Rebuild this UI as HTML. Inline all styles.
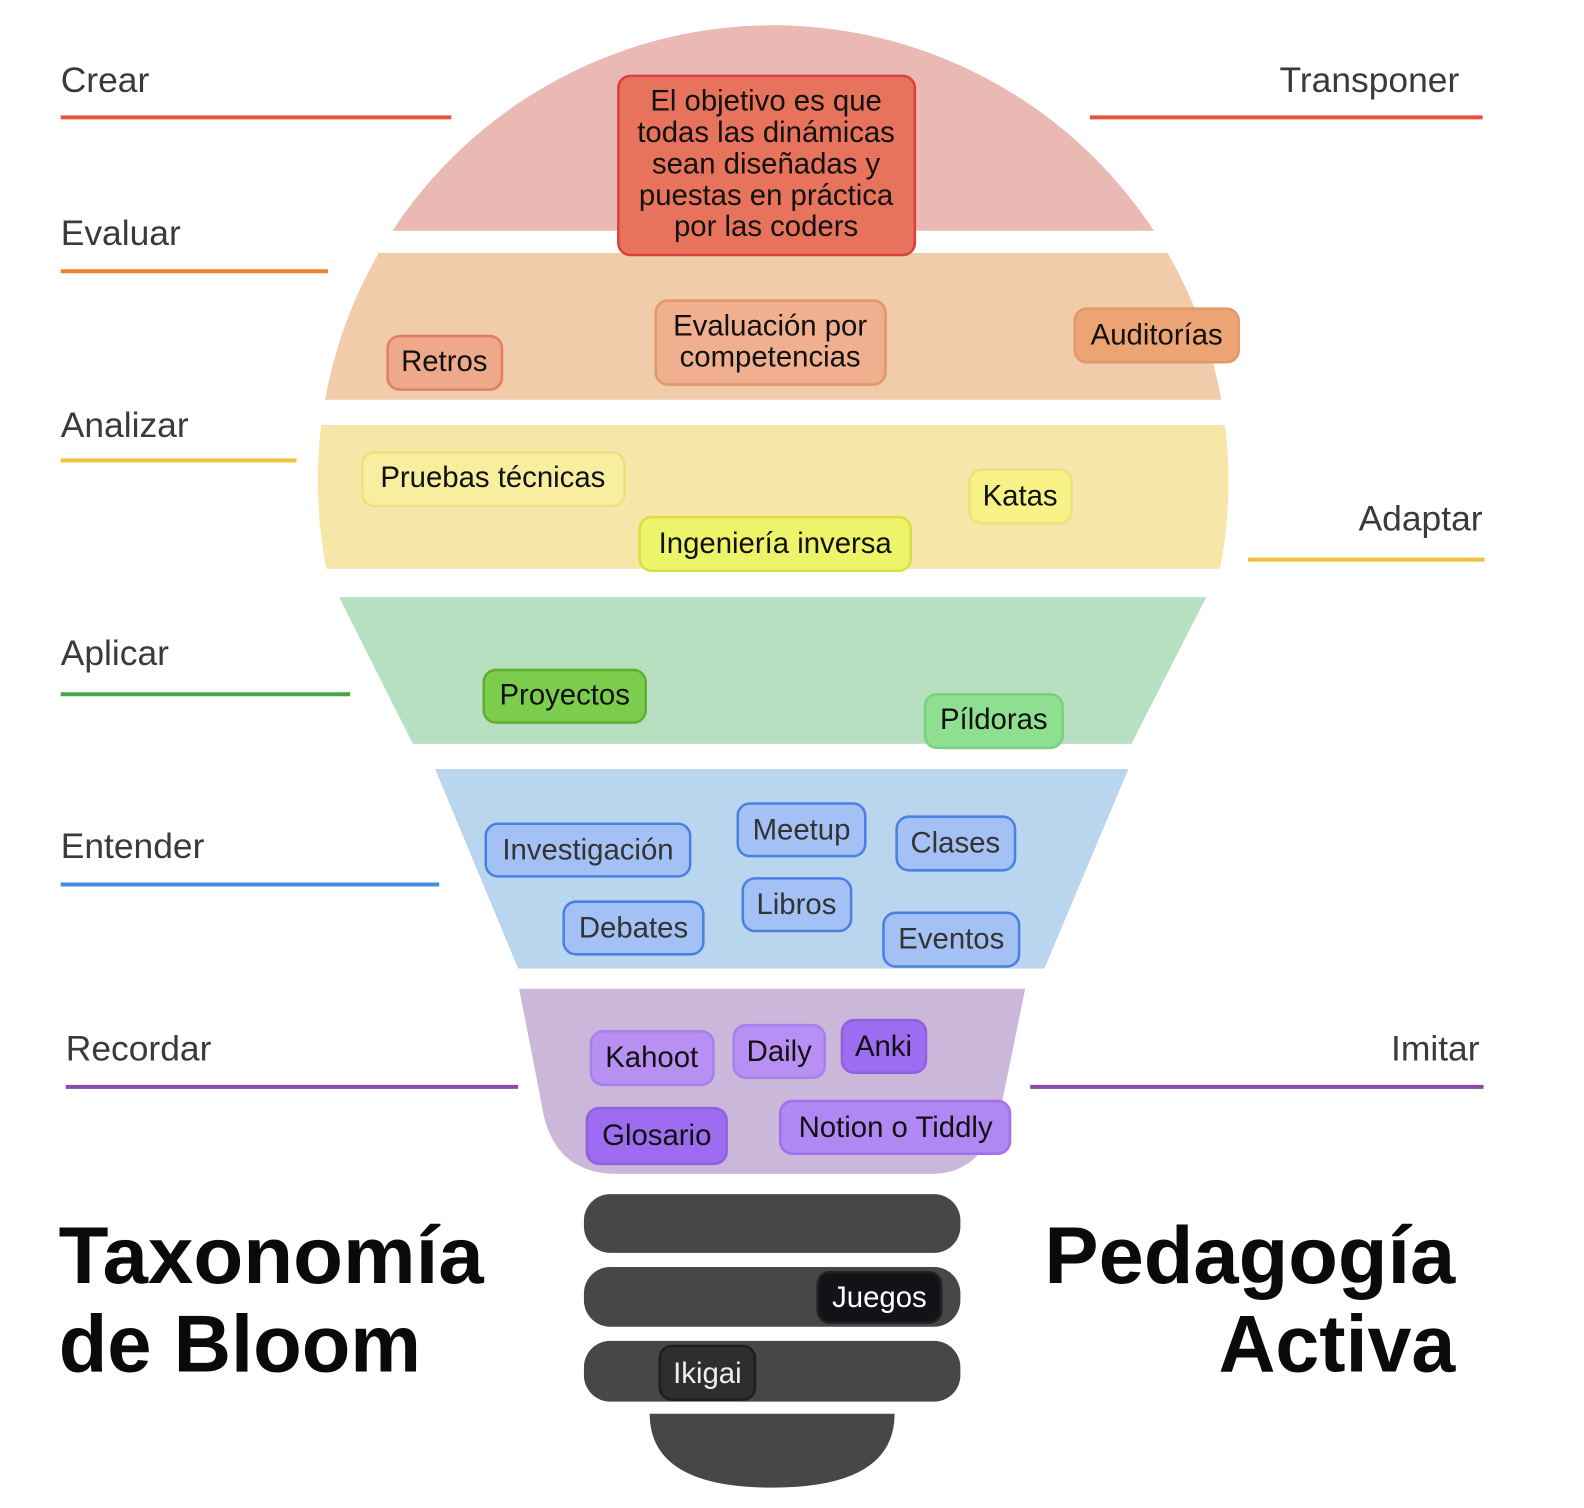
<!DOCTYPE html>
<html><head><meta charset="utf-8"><style>
html,body{margin:0;padding:0;background:#fff;}
svg{display:block}
.lab{font-family:"Liberation Sans",sans-serif;font-size:35px;fill:#3a3a3a}
.t{font-family:"Liberation Sans",sans-serif;font-size:29px;fill:#111;text-anchor:middle;dominant-baseline:central}
.big{font-family:"Liberation Sans",sans-serif;font-weight:bold;font-size:80px;fill:#0a0a0a}
</style></head><body>
<svg width="1584" height="1508" viewBox="0 0 1584 1508" xmlns="http://www.w3.org/2000/svg">
<defs><clipPath id="c"><circle cx="764" cy="475" r="450"/></clipPath></defs>
<g transform="scale(1.012)">
<g clip-path="url(#c)">
<rect x="300" y="0" width="950" height="228" fill="#ebb9b3"/>
<rect x="300" y="250" width="950" height="145" fill="#f0ccab"/>
<rect x="300" y="420" width="950" height="142" fill="#f6e6a8"/>
</g>
<polygon points="335,590 1192,590 1118,735 408,735" fill="#b7e0c1"/>
<polygon points="430,760 1115,760 1032,957 512,957" fill="#bad5ee"/>
<path d="M513,977 L1013,977 L990,1090 Q975,1160 920,1160 L610,1160 Q545,1160 535,1090 Z" fill="#cbb7d9"/>
<rect x="577" y="1180" width="372" height="58" rx="26" fill="#474747"/>
<rect x="577" y="1252" width="372" height="59" rx="26" fill="#474747"/>
<rect x="577" y="1325" width="372" height="60" rx="26" fill="#474747"/>
<path d="M642,1397 L884,1397 Q884,1470 763,1470 Q642,1470 642,1397 Z" fill="#474747"/>

<g stroke-width="4">
<line x1="60" y1="116" x2="446" y2="116" stroke="#e8553f"/>
<line x1="60" y1="268" x2="324" y2="268" stroke="#ea8230"/>
<line x1="60" y1="455" x2="293" y2="455" stroke="#f0c23a"/>
<line x1="60" y1="686" x2="346" y2="686" stroke="#43a845"/>
<line x1="60" y1="874" x2="434" y2="874" stroke="#3f8fdc"/>
<line x1="65" y1="1074" x2="512" y2="1074" stroke="#8a4aa6"/>
<line x1="1077" y1="116" x2="1465" y2="116" stroke="#e8553f"/>
<line x1="1233" y1="553" x2="1467" y2="553" stroke="#f0c23a"/>
<line x1="1018" y1="1074" x2="1466" y2="1074" stroke="#8a4aa6"/>
</g>
<text class="lab" x="60" y="91">Crear</text>
<text class="lab" x="60" y="242">Evaluar</text>
<text class="lab" x="60" y="432">Analizar</text>
<text class="lab" x="60" y="657">Aplicar</text>
<text class="lab" x="60" y="848">Entender</text>
<text class="lab" x="65" y="1048">Recordar</text>
<text class="lab" x="1442" y="91" text-anchor="end">Transponer</text>
<text class="lab" x="1465" y="524" text-anchor="end">Adaptar</text>
<text class="lab" x="1462" y="1048" text-anchor="end">Imitar</text>

<text class="big" x="58" y="1268" textLength="420" lengthAdjust="spacingAndGlyphs">Taxonomía</text>
<text class="big" x="58" y="1355" textLength="358" lengthAdjust="spacingAndGlyphs">de Bloom</text>
<text class="big" x="1032" y="1268" textLength="406" lengthAdjust="spacingAndGlyphs">Pedagogía</text>
<text class="big" x="1204" y="1355" textLength="234" lengthAdjust="spacingAndGlyphs">Activa</text>

<g stroke-width="2.5">
<rect x="611" y="75" width="293" height="177" rx="12" fill="#e8735c" stroke="#d94040"/>
<rect x="383" y="332" width="113" height="53" rx="12" fill="#eea88a" stroke="#e08060"/>
<rect x="648" y="297" width="227" height="83" rx="12" fill="#f0b090" stroke="#e09868"/>
<rect x="1062" y="305" width="162" height="53" rx="12" fill="#eca474" stroke="#e09868"/>
<rect x="358" y="447" width="259" height="53" rx="12" fill="#f7eea0" stroke="#ece080"/>
<rect x="958" y="464" width="101" height="53" rx="12" fill="#f6f286" stroke="#ece080"/>
<rect x="632" y="511" width="268" height="53" rx="12" fill="#eef46a" stroke="#d8e040"/>
<rect x="478" y="662" width="160" height="52" rx="12" fill="#7ccc4e" stroke="#60b030"/>
<rect x="914" y="686" width="136" height="53" rx="12" fill="#8ee090" stroke="#78d080"/>
<g fill="#a3c1f5" stroke="#4a80e0">
<rect x="480" y="814" width="202" height="52" rx="12"/>
<rect x="729" y="794" width="126" height="52" rx="12"/>
<rect x="886" y="807" width="117" height="53" rx="12"/>
<rect x="557" y="891" width="138" height="52" rx="12"/>
<rect x="734" y="868" width="107" height="52" rx="12"/>
<rect x="873" y="902" width="134" height="53" rx="12"/>
</g>
<rect x="584" y="1019" width="121" height="53" rx="12" fill="#b890f4" stroke="#a880ec"/>
<rect x="725" y="1013" width="90" height="52" rx="12" fill="#b890f4" stroke="#a880ec"/>
<rect x="832" y="1008" width="83" height="52" rx="12" fill="#9e6cf0" stroke="#9060e0"/>
<rect x="580" y="1095" width="138" height="55" rx="12" fill="#9e6cf0" stroke="#9060e0"/>
<rect x="771" y="1088" width="227" height="52" rx="12" fill="#b088f4" stroke="#a070ec"/>
<rect x="808" y="1257" width="122" height="50" rx="12" fill="#111318" stroke="#222"/>
<rect x="652" y="1330" width="94" height="53" rx="12" fill="#2e2e2e" stroke="#1e1e1e"/>
</g>

<text class="t" x="757" y="100">El objetivo es que</text>
<text class="t" x="757" y="131">todas las dinámicas</text>
<text class="t" x="757" y="162">sean diseñadas y</text>
<text class="t" x="757" y="193">puestas en práctica</text>
<text class="t" x="757" y="224">por las coders</text>
<text class="t" x="439" y="357">Retros</text>
<text class="t" x="761" y="322">Evaluación por</text>
<text class="t" x="761" y="353">competencias</text>
<text class="t" x="1143" y="331">Auditorías</text>
<text class="t" x="487" y="472">Pruebas técnicas</text>
<text class="t" x="1008" y="490">Katas</text>
<text class="t" x="766" y="537">Ingeniería inversa</text>
<text class="t" x="558" y="687">Proyectos</text>
<text class="t" x="982" y="711">Píldoras</text>
<text class="t" x="581" y="840" style="fill:#333">Investigación</text>
<text class="t" x="792" y="820" style="fill:#333">Meetup</text>
<text class="t" x="944" y="833" style="fill:#333">Clases</text>
<text class="t" x="626" y="917" style="fill:#333">Debates</text>
<text class="t" x="787" y="894" style="fill:#333">Libros</text>
<text class="t" x="940" y="928" style="fill:#333">Eventos</text>
<text class="t" x="644" y="1045">Kahoot</text>
<text class="t" x="770" y="1039">Daily</text>
<text class="t" x="873" y="1034">Anki</text>
<text class="t" x="649" y="1122">Glosario</text>
<text class="t" x="885" y="1114">Notion o Tiddly</text>
<text class="t" x="869" y="1282" style="fill:#fff">Juegos</text>
<text class="t" x="699" y="1357" style="fill:#eee">Ikigai</text>
</g>
</svg>
</body></html>
